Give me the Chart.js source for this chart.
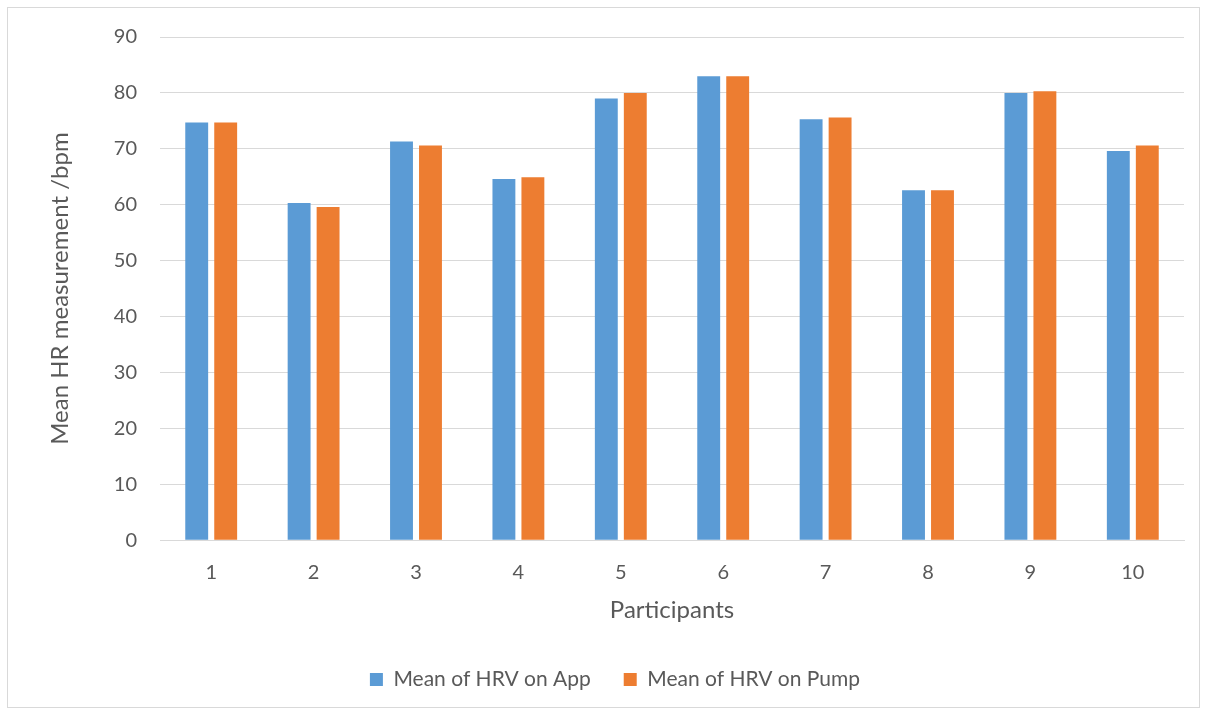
<!DOCTYPE html>
<html>
<head>
<meta charset="utf-8">
<script src="https://cdn.jsdelivr.net/npm/chart.js@4"></script>
<style>
  html, body { margin: 0; padding: 0; background: #fff; }
  #frame { position: absolute; left: 7px; top: 7px; width: 1191px; height: 699px; border: 1px solid #d9d9d9; }
  #frame canvas { display: block; }
</style>
</head>
<body>
<div id="frame"><canvas id="chart" width="1191" height="699"></canvas></div>
<script>
// Participants on the x axis
const participants = ['1', '2', '3', '4', '5', '6', '7', '8', '9', '10'];
// Mean HR values (bpm)
const hrvApp = [74.7, 60.3, 71.3, 64.6, 79.0, 83.0, 75.3, 62.6, 80.0, 69.6];
const hrvPump = [74.7, 59.6, 70.6, 64.9, 80.0, 83.0, 75.6, 62.6, 80.3, 70.6];
const yTicks = [0, 10, 20, 30, 40, 50, 60, 70, 80, 90];

const BLUE = '#5b9bd5';
const ORANGE = '#ed7d31';
const TEXT = '#595959';
const GRID = '#d9d9d9';
const FONT = "Lato, 'Open Sans', sans-serif";

new Chart(document.getElementById('chart'), {
  type: 'bar',
  data: {
    labels: participants,
    datasets: [
      { label: 'Mean of HRV on App', data: hrvApp, backgroundColor: BLUE, borderWidth: 0 },
      { label: 'Mean of HRV on Pump', data: hrvPump, backgroundColor: ORANGE, borderWidth: 0 },
    ],
  },
  options: {
    responsive: false,
    animation: false,
    categoryPercentage: 0.566,
    barPercentage: 0.79,
    layout: { padding: { left: 38, right: 15, top: 29, bottom: 7 } },
    plugins: {
      tooltip: { enabled: false },
      legend: {
        position: 'bottom',
        labels: { color: TEXT, font: { family: FONT, size: 21 }, boxWidth: 13, boxHeight: 13, padding: 33 },
      },
    },
    scales: {
      x: {
        // title is anchored to the bottom edge, so shrinking pulls the plot down
        afterFit: s => { s.height -= 19; },
        grid: { display: false, drawTicks: false },
        border: { display: true, color: GRID, width: 1 },
        ticks: { color: TEXT, font: { family: FONT, size: 20 }, padding: 20 },
        title: { display: true, text: 'Participants', color: TEXT, font: { family: FONT, size: 24 }, padding: { top: 11, bottom: 11 } },
      },
      y: {
        min: 0,
        max: 90,
        afterBuildTicks: s => { s.ticks = yTicks.map(v => ({ value: v })); },
        // tick padding would otherwise push the plot top down
        afterFit: s => { s.width = 114; s.paddingTop = 12; },
        grid: { color: GRID, lineWidth: 1, drawTicks: false },
        border: { display: false },
        ticks: { color: TEXT, font: { family: FONT, size: 20 }, padding: 23 },
        title: { display: true, text: 'Mean HR measurement /bpm', color: TEXT, font: { family: FONT, size: 24 }, padding: 0 },
      },
    },
  },
});
</script>
</body>
</html>
